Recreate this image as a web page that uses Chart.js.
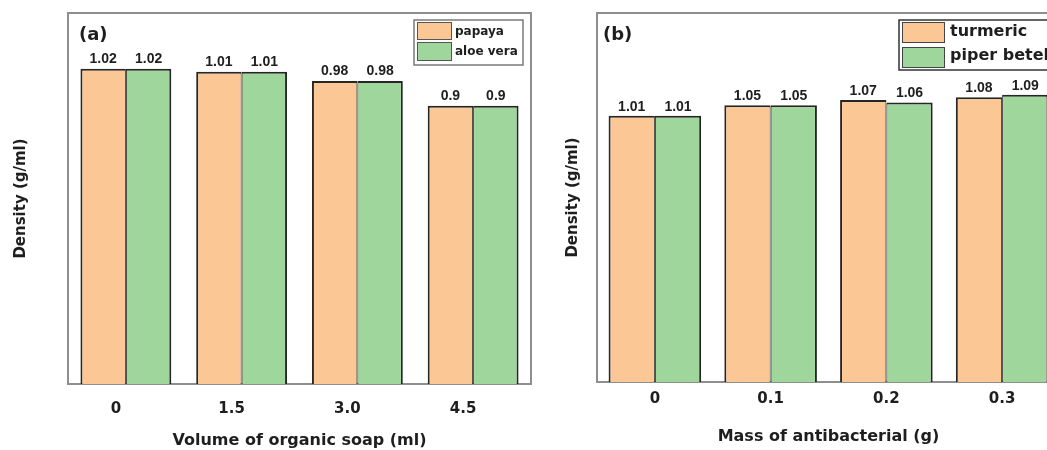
<!DOCTYPE html>
<html><head><meta charset="utf-8">
<script src="https://cdn.jsdelivr.net/npm/chart.js@4.4.0/dist/chart.umd.min.js"></script>
<style>
html,body{margin:0;padding:0;background:#fff;overflow:hidden;width:1047px;height:450px;}
canvas{position:absolute;top:0;}
#ca{left:0;} #cb{left:535px;}
</style></head><body>
<canvas id="ca" width="535" height="450"></canvas>
<canvas id="cb" width="525" height="450"></canvas>
<script>
// ---- data ----
const catsA = ['0', '1.5', '3.0', '4.5'];
const papaya = [1.02, 1.01, 0.98, 0.9];
const aloeVera = [1.02, 1.01, 0.98, 0.9];
const catsB = ['0', '0.1', '0.2', '0.3'];
const turmeric = [1.01, 1.05, 1.07, 1.08];
const piperBetel = [1.01, 1.05, 1.06, 1.09];

const ORANGE = '#FBC794', GREEN = '#9ED69B', EDGE = '#262626', TXT = '#1e1e1e';

const framePlugin = {
  id: 'frame',
  beforeDatasetsDraw(chart) {
    const {ctx, chartArea: a} = chart;
    ctx.save();
    ctx.strokeStyle = '#8e8e8e'; ctx.lineWidth = 2;
    ctx.strokeRect(a.left, a.top, a.right - a.left, a.bottom - a.top);
    ctx.restore();
  }
};
const valuePlugin = {
  id: 'values',
  afterDatasetsDraw(chart, args, o) {
    const ctx = chart.ctx;
    ctx.save();
    ctx.font = o.font; ctx.fillStyle = TXT; ctx.textAlign = 'center'; ctx.textBaseline = 'middle';
    chart.data.datasets.forEach((ds, i) => {
      chart.getDatasetMeta(i).data.forEach((bar, j) => {
        ctx.fillText(String(ds.data[j]), bar.x, bar.y - o.gap);
      });
    });
    ctx.restore();
  }
};
const panelPlugin = {
  id: 'panel',
  afterDraw(chart, args, o) {
    const {ctx, chartArea: a} = chart;
    ctx.save();
    ctx.font = o.font; ctx.fillStyle = TXT; ctx.textAlign = 'left'; ctx.textBaseline = 'middle';
    ctx.fillText(o.text, a.left + o.dx, o.y);
    ctx.restore();
  }
};
const legendPlugin = {
  id: 'boxlegend',
  afterDraw(chart, args, o) {
    const ctx = chart.ctx;
    ctx.save();
    ctx.fillStyle = '#fff';
    ctx.fillRect(o.box[0], o.box[1], o.box[2], o.box[3]);
    ctx.strokeStyle = o.boxColor; ctx.lineWidth = o.boxWidth;
    ctx.strokeRect(o.box[0], o.box[1], o.box[2], o.box[3]);
    ctx.font = o.font; ctx.textAlign = 'left'; ctx.textBaseline = 'middle';
    chart.data.datasets.forEach((ds, i) => {
      const s = o.sw[i];
      ctx.fillStyle = ds.backgroundColor;
      ctx.fillRect(s[0], s[1], s[2], s[3]);
      ctx.strokeStyle = o.swBorder; ctx.lineWidth = 1;
      ctx.strokeRect(s[0] + 0.5, s[1] + 0.5, s[2] - 1, s[3] - 1);
      ctx.fillStyle = TXT;
      ctx.fillText(ds.label, o.textX, o.textY[i]);
    });
    ctx.restore();
  }
};

function makeChart(id, cats, s1, s2, l1, l2, cfg) {
  return new Chart(document.getElementById(id), {
    type: 'bar',
    data: {
      labels: cats,
      datasets: [
        {label: l1, data: s1, backgroundColor: ORANGE, borderColor: EDGE, borderSkipped: false,
         borderWidth: {top: 2, left: 2, right: 1, bottom: 0}},
        {label: l2, data: s2, backgroundColor: GREEN, borderColor: EDGE, borderSkipped: false,
         borderWidth: {top: 2, left: 1, right: 2, bottom: 0}}
      ]
    },
    options: {
      responsive: false, animation: false, devicePixelRatio: 1,
      layout: {padding: {top: 13, right: cfg.padRight, left: 0, bottom: 0}},
      datasets: {bar: {categoryPercentage: cfg.catPct, barPercentage: 1}},
      scales: {
        x: {
          grid: {display: false, drawTicks: false}, border: {display: false},
          ticks: {color: TXT, font: {family: 'DejaVu Sans', weight: 'bold', size: 15}, padding: cfg.tickPad, labelOffset: cfg.labelOffset, maxRotation: 0},
          title: {display: true, text: cfg.xTitle, color: TXT, font: {family: 'DejaVu Sans', weight: 'bold', size: 16}, padding: {top: 0, bottom: cfg.xTitlePad}},
          afterFit: s => { s.height = cfg.xHeight; }
        },
        y: {
          min: 0, max: cfg.yMax,
          grid: {display: false, drawTicks: false}, border: {display: false},
          ticks: {display: false},
          title: {display: true, text: 'Density (g/ml)', color: TXT, font: {family: 'DejaVu Sans', weight: 'bold', size: 15}, padding: {top: cfg.yTitlePad, bottom: 0}},
          afterFit: s => { s.width = cfg.yWidth; }
        }
      },
      plugins: {
        legend: {display: false}, tooltip: {enabled: false},
        values: {font: 'bold 14px "Liberation Sans", Arial, sans-serif', gap: cfg.valGap},
        panel: {text: cfg.panel, font: 'bold 18px "DejaVu Sans"', dx: cfg.panelDx, y: 35},
        boxlegend: cfg.legend
      }
    },
    plugins: [framePlugin, valuePlugin, panelPlugin, legendPlugin]
  });
}

makeChart('ca', catsA, papaya, aloeVera, 'papaya', 'aloe vera', {
  padRight: 4, catPct: 0.785, tickPad: 16, labelOffset: -10, xTitle: 'Volume of organic soap (ml)',
  xTitlePad: 0, xHeight: 66, yMax: 1.2, yTitlePad: 12.5, yWidth: 68, valGap: 9.5,
  panel: '(a)', panelDx: 11,
  legend: {box: [414, 20, 109, 45], boxColor: '#7a7a7a', boxWidth: 1.5,
    sw: [[417, 22, 35, 18], [417, 42, 35, 19]], swBorder: '#555',
    font: 'bold 12px "DejaVu Sans"', textX: 455, textY: [32, 52]}
});
makeChart('cb', catsB, turmeric, piperBetel, 'turmeric', 'piper betel', {
  padRight: 0, catPct: 0.80, tickPad: 8.5, labelOffset: 0, xTitle: 'Mass of antibacterial (g)',
  xTitlePad: 3.4, xHeight: 68, yMax: 1.4, yTitlePad: 29.5, yWidth: 62, valGap: 9,
  panel: '(b)', panelDx: 6,
  legend: {box: [364, 20, 160, 50], boxColor: '#333', boxWidth: 1.5,
    sw: [[367, 22, 43, 21], [367, 47, 43, 21]], swBorder: '#444',
    font: 'bold 16px "DejaVu Sans"', textX: 415, textY: [32, 56]}
});
</script>
</body></html>
